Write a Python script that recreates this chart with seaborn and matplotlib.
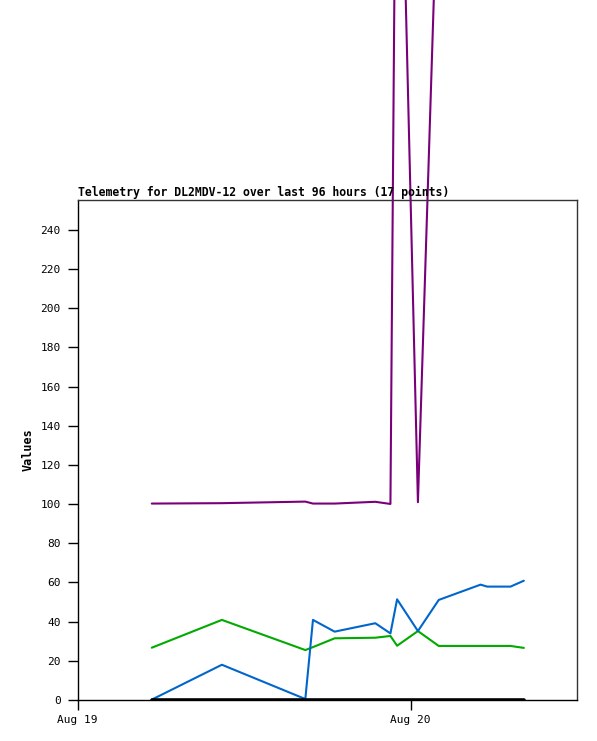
import matplotlib
matplotlib.use('Agg')
import matplotlib.pyplot as plt
import pandas as pd
import numpy as np
import seaborn as sns

# hours after Aug 19 00:00 for every point
hours = [5.35, 10.40, 16.41, 16.96, 18.52, 21.45, 22.54, 23.02, 24.52, 26.02, 29.03, 29.51, 31.19, 32.15]
purple_vals = [100.3, 100.5, 101.3, 100.3, 100.3, 101.2, 100.1, 540, 101, 438, 436, 437, 436, 438]
green_vals = [26.7, 40.9, 25.5, 27.0, 31.5, 31.8, 32.7, 27.7, 35.2, 27.6, 27.6, 27.6, 27.6, 26.6]
blue_vals = [0.2, 18.0, 0.5, 40.9, 34.9, 39.2, 34.0, 51.4, 35.2, 51.1, 58.9, 57.9, 57.9, 60.9]
black_vals = [0] * 14
xtick_labels = ['Aug 19', 'Aug 20']

start = pd.Timestamp('2024-08-19 00:00')
times = [start + pd.Timedelta(hours=h) for h in hours]

sns.set_style('white')
plt.rcParams['font.family'] = ['DejaVu Sans Mono']
plt.rcParams['text.color'] = 'black'
plt.rcParams['axes.labelcolor'] = 'black'

fig = plt.figure(figsize=(5.97, 7.41), dpi=100)
ax = fig.add_axes([77.5 / 597, 41 / 741, 499.8 / 597, 500 / 741])

series = [(purple_vals, '#7a007a', False), (green_vals, '#00aa00', True),
          (blue_vals, '#0066cc', True), (black_vals, '#000000', True)]
for vals, col, clip in series:
    df = pd.DataFrame({'time': times, 'value': vals})
    sns.lineplot(data=df, x='time', y='value', color=col, linewidth=1.5,
                 estimator=None, sort=False, ax=ax)
    ax.lines[-1].set_clip_on(clip)
ax.lines[-1].set_linewidth(2.6)

ax.set_xlim(start, start + pd.Timedelta(hours=36))
ax.set_ylim(0, 255.3)
ax.set_xticks([start, start + pd.Timedelta(days=1)])
ax.set_xticklabels(xtick_labels)
ax.set_yticks(np.arange(0, 241, 20))
ax.tick_params(axis='both', bottom=True, left=True, labelsize=8, length=7, width=1,
               color='black', labelcolor='black', direction='out')
ax.tick_params(axis='y', pad=5)
ax.tick_params(axis='x', pad=4)
for s in ax.spines.values():
    s.set_color('#333333')
    s.set_linewidth(1)
ax.spines['left'].set_color('black')
ax.spines['bottom'].set_color('black')

ax.set_xlabel('')
ax.set_ylabel('Values', fontsize=8.5, fontweight='bold', labelpad=4)
ax.set_title('Telemetry for DL2MDV-12 over last 96 hours (17 points)', loc='left',
             fontsize=8.3, fontweight='bold', pad=3, color='black')

plt.savefig('out.png', dpi=100)
